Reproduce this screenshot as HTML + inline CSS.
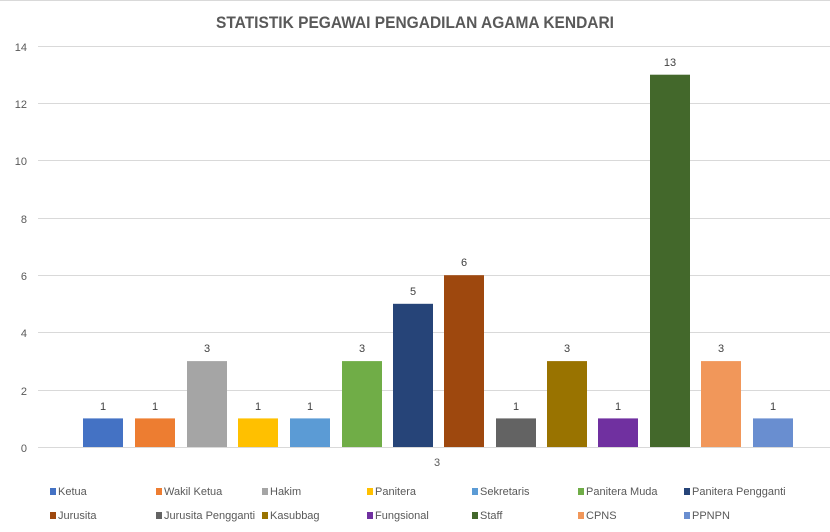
<!DOCTYPE html>
<html><head><meta charset="utf-8"><style>
body{margin:0;background:#fff;}
svg{display:block;font-family:"Liberation Sans",sans-serif;}
</style></head><body>
<svg width="830" height="532" viewBox="0 0 830 532">
<rect x="0" y="0" width="830" height="532" fill="#fff"/>
<line x1="0" y1="0.5" x2="830" y2="0.5" stroke="#d9d9d9"/>
<text x="216" y="28" font-size="17" font-weight="bold" fill="#595959" textLength="398" lengthAdjust="spacingAndGlyphs">STATISTIK PEGAWAI PENGADILAN AGAMA KENDARI</text>
<g stroke="#d9d9d9" stroke-width="1">
<line x1="38" y1="46.5" x2="830" y2="46.5"/>
<line x1="38" y1="103.5" x2="830" y2="103.5"/>
<line x1="38" y1="160.5" x2="830" y2="160.5"/>
<line x1="38" y1="218.5" x2="830" y2="218.5"/>
<line x1="38" y1="275.5" x2="830" y2="275.5"/>
<line x1="38" y1="332.5" x2="830" y2="332.5"/>
<line x1="38" y1="390.5" x2="830" y2="390.5"/>
<line x1="38" y1="447.5" x2="830" y2="447.5"/>
</g>
<g font-size="11" fill="#595959" text-anchor="end">
<text x="27" y="51">14</text><text x="27" y="108">12</text><text x="27" y="165">10</text>
<text x="27" y="223">8</text><text x="27" y="280">6</text><text x="27" y="337">4</text>
<text x="27" y="395">2</text><text x="27" y="452">0</text>
</g>
<g>
<rect x="83" y="418.4" width="40" height="28.6" fill="#4472c4"/>
<rect x="135" y="418.4" width="40" height="28.6" fill="#ed7d31"/>
<rect x="187" y="361.1" width="40" height="85.9" fill="#a5a5a5"/>
<rect x="238" y="418.4" width="40" height="28.6" fill="#ffc000"/>
<rect x="290" y="418.4" width="40" height="28.6" fill="#5b9bd5"/>
<rect x="342" y="361.1" width="40" height="85.9" fill="#70ad47"/>
<rect x="393" y="303.8" width="40" height="143.2" fill="#264478"/>
<rect x="444" y="275.2" width="40" height="171.8" fill="#9e480e"/>
<rect x="496" y="418.4" width="40" height="28.6" fill="#636363"/>
<rect x="547" y="361.1" width="40" height="85.9" fill="#997300"/>
<rect x="598" y="418.4" width="40" height="28.6" fill="#7030a0"/>
<rect x="650" y="74.7" width="40" height="372.3" fill="#43682b"/>
<rect x="701" y="361.1" width="40" height="85.9" fill="#f1975a"/>
<rect x="753" y="418.4" width="40" height="28.6" fill="#698ed0"/>
</g>
<g font-size="11" fill="#404040" text-anchor="middle">
<text x="103" y="410">1</text><text x="155" y="410">1</text><text x="207" y="352">3</text>
<text x="258" y="410">1</text><text x="310" y="410">1</text><text x="362" y="352">3</text>
<text x="413" y="295">5</text><text x="464" y="266">6</text><text x="516" y="410">1</text>
<text x="567" y="352">3</text><text x="618" y="410">1</text><text x="670" y="66">13</text>
<text x="721" y="352">3</text><text x="773" y="410">1</text>
<text x="437" y="466" fill="#595959">3</text>
</g>
<g font-size="11" fill="#595959">
<rect x="50" y="488" width="6" height="7" fill="#4472c4"/><text x="58" y="495">Ketua</text>
<rect x="156" y="488" width="6" height="7" fill="#ed7d31"/><text x="164" y="495">Wakil Ketua</text>
<rect x="262" y="488" width="6" height="7" fill="#a5a5a5"/><text x="270" y="495">Hakim</text>
<rect x="367" y="488" width="6" height="7" fill="#ffc000"/><text x="375" y="495">Panitera</text>
<rect x="472" y="488" width="6" height="7" fill="#5b9bd5"/><text x="480" y="495">Sekretaris</text>
<rect x="578" y="488" width="6" height="7" fill="#70ad47"/><text x="586" y="495">Panitera Muda</text>
<rect x="684" y="488" width="6" height="7" fill="#264478"/><text x="692" y="495">Panitera Pengganti</text>
<rect x="50" y="512" width="6" height="7" fill="#9e480e"/><text x="58" y="519">Jurusita</text>
<rect x="156" y="512" width="6" height="7" fill="#636363"/><text x="164" y="519">Jurusita Pengganti</text>
<rect x="262" y="512" width="6" height="7" fill="#997300"/><text x="270" y="519">Kasubbag</text>
<rect x="367" y="512" width="6" height="7" fill="#7030a0"/><text x="375" y="519">Fungsional</text>
<rect x="472" y="512" width="6" height="7" fill="#43682b"/><text x="480" y="519">Staff</text>
<rect x="578" y="512" width="6" height="7" fill="#f1975a"/><text x="586" y="519">CPNS</text>
<rect x="684" y="512" width="6" height="7" fill="#698ed0"/><text x="692" y="519">PPNPN</text>
</g>
</svg>
</body></html>
